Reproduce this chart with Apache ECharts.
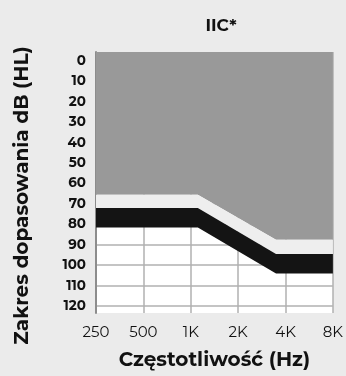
<!DOCTYPE html>
<html>
<head>
<meta charset="utf-8">
<script src="https://cdn.jsdelivr.net/npm/echarts@6/dist/echarts.min.js"></script>
<style>
  html, body { margin: 0; padding: 0; background: #ebebeb; }
  #chart { width: 346px; height: 376px; }
</style>
</head>
<body>
<div id="chart"></div>
<script>
// frequency labels (octave positions 0..5)
const freqLabels = ['250', '500', '1K', '2K', '4K', '8K']
const dbTicks = [0, 10, 20, 30, 40, 50, 60, 70, 80, 90, 100, 110, 120]

// band breakpoints, x in octaves from 250 Hz
const bandX = [0, 2.15, 3.8, 5]
const grayBottom = [65.5, 65.5, 87.5, 87.5]
const blackTop = [72, 72, 94.5, 94.5]
const blackBottom = [81.5, 81.5, 104, 104]

// [dB, x] so the stack runs along the dB dimension
const pts = (ys) => bandX.map((x, i) => [ys[i], x])
const diff = (a, b) => bandX.map((x, i) => [a[i] - b[i], x])

const chart = echarts.init(document.getElementById('chart'))

const font = 'Montserrat, "Open Sans", "DejaVu Sans", sans-serif'

chart.setOption({
  backgroundColor: '#ebebeb',
  animation: false,
  title: {
    text: 'IIC*',
    left: 216,
    top: 12,
    textAlign: 'center',
    textStyle: { fontFamily: font, fontSize: 17, fontWeight: 'bold', color: '#111' }
  },
  grid: {
    left: 96,
    right: 9,
    top: 52,
    bottom: 63,
    show: true,
    backgroundColor: '#ffffff',
    borderWidth: 0
  },
  xAxis: {
    type: 'value',
    min: 0,
    max: 5,
    interval: 1,
    name: 'Częstotliwość (Hz)',
    nameLocation: 'middle',
    nameGap: 37,
    nameTextStyle: { fontFamily: font, fontSize: 20, fontWeight: 'bold', color: '#111' },
    axisLine: { show: false },
    axisTick: { show: false },
    axisLabel: {
      fontFamily: font,
      fontSize: 15,
      color: '#111',
      margin: 12,
      formatter: (v) => freqLabels[Math.round(v)]
    },
    splitLine: { show: true, lineStyle: { color: '#b0b0b0', width: 1.5 } }
  },
  yAxis: {
    type: 'value',
    inverse: true,
    min: -4.4,
    max: 123.4,
    name: 'Zakres dopasowania dB (HL)',
    nameLocation: 'middle',
    nameGap: 64,
    nameTextStyle: { fontFamily: font, fontSize: 20, fontWeight: 'bold', color: '#111', padding: [0, 26, 0, 0] },
    axisLine: { show: true, lineStyle: { color: '#8c8c8c', width: 2 } },
    axisTick: { show: false, customValues: dbTicks },
    axisLabel: {
      fontFamily: font,
      fontSize: 13.5,
      fontWeight: 'bold',
      color: '#111',
      margin: 10,
      customValues: dbTicks
    },
    splitLine: { show: true, customValues: dbTicks, lineStyle: { color: '#b0b0b0', width: 1.5 } }
  },
  series: [
    {
      type: 'line',
      data: pts(grayBottom),
      encode: { x: 1, y: 0 },
      symbol: 'none',
      lineStyle: { width: 0 },
      areaStyle: { origin: 'start', color: '#999999', opacity: 1 }
    },
    {
      type: 'line',
      stack: 'band',
      data: pts(grayBottom),
      encode: { x: 1, y: 0 },
      symbol: 'none',
      lineStyle: { width: 0 }
    },
    {
      type: 'line',
      stack: 'band',
      data: diff(blackTop, grayBottom),
      encode: { x: 1, y: 0 },
      symbol: 'none',
      lineStyle: { width: 0 },
      areaStyle: { color: '#eeeeee', opacity: 1 }
    },
    {
      type: 'line',
      stack: 'band',
      data: diff(blackBottom, blackTop),
      encode: { x: 1, y: 0 },
      symbol: 'none',
      lineStyle: { width: 0 },
      areaStyle: { color: '#141414', opacity: 1 }
    }
  ]
})
</script>
</body>
</html>
